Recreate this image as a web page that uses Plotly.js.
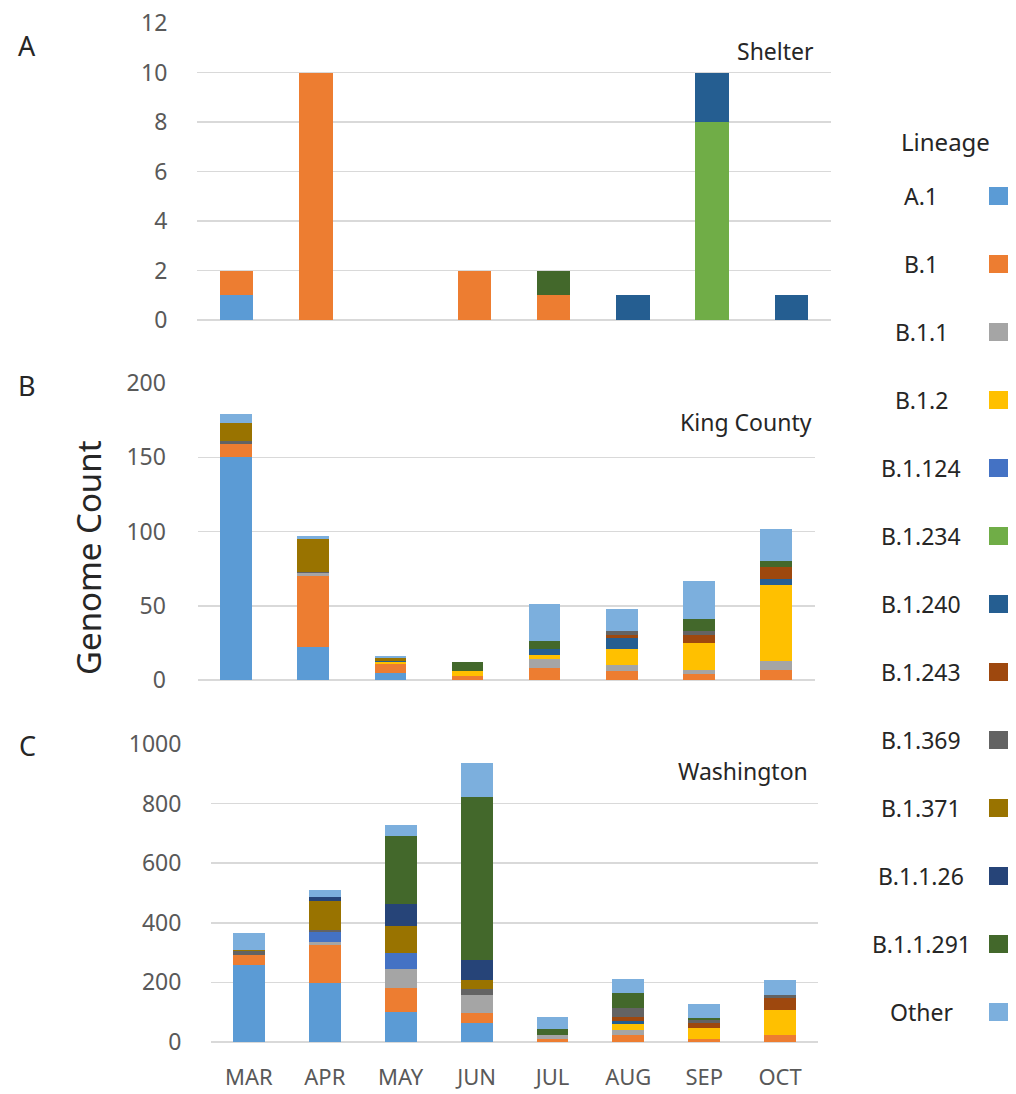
<!DOCTYPE html>
<html>
<head>
<meta charset="utf-8">
<script src="https://cdn.plot.ly/plotly-3.0.1.min.js"></script>
<style>
  html, body { margin: 0; padding: 0; background: #ffffff; }
  #chart { width: 1016px; height: 1094px; }
</style>
</head>
<body>
<div id="chart"></div>
<script>
// ---------------- DATA ----------------
const months = ['MAR', 'APR', 'MAY', 'JUN', 'JUL', 'AUG', 'SEP', 'OCT'];

const lineages = ['A.1', 'B.1', 'B.1.1', 'B.1.2', 'B.1.124', 'B.1.234', 'B.1.240',
                  'B.1.243', 'B.1.369', 'B.1.371', 'B.1.1.26', 'B.1.1.291', 'Other'];

const lineageColors = ['#5B9BD5', '#ED7D31', '#A5A5A5', '#FFC000', '#4472C4', '#70AD47', '#255E91',
                       '#9E480E', '#636363', '#997300', '#264478', '#43682B', '#7CAFDD'];

// one row per lineage (same order as `lineages`), one value per month
const shelterCounts = [
  [1, 0, 0, 0, 0, 0, 0, 0],   // A.1
  [1, 10, 0, 2, 1, 0, 0, 0],  // B.1
  [0, 0, 0, 0, 0, 0, 0, 0],   // B.1.1
  [0, 0, 0, 0, 0, 0, 0, 0],   // B.1.2
  [0, 0, 0, 0, 0, 0, 0, 0],   // B.1.124
  [0, 0, 0, 0, 0, 0, 8, 0],   // B.1.234
  [0, 0, 0, 0, 0, 1, 2, 1],   // B.1.240
  [0, 0, 0, 0, 0, 0, 0, 0],   // B.1.243
  [0, 0, 0, 0, 0, 0, 0, 0],   // B.1.369
  [0, 0, 0, 0, 0, 0, 0, 0],   // B.1.371
  [0, 0, 0, 0, 0, 0, 0, 0],   // B.1.1.26
  [0, 0, 0, 0, 1, 0, 0, 0],   // B.1.1.291
  [0, 0, 0, 0, 0, 0, 0, 0]    // Other
];

const kingCountyCounts = [
  [150, 22, 5, 0, 0, 0, 0, 0],   // A.1
  [9, 48, 6, 3, 8, 6, 4, 7],     // B.1
  [0, 2, 0, 0, 6, 4, 3, 6],      // B.1.1
  [0, 0, 1, 3, 3, 11, 18, 51],   // B.1.2
  [0, 0, 0, 0, 0, 0, 0, 0],      // B.1.124
  [0, 0, 0, 0, 0, 0, 0, 0],      // B.1.234
  [0, 0, 1, 0, 4, 7, 0, 4],      // B.1.240
  [0, 0, 0, 0, 0, 2, 5, 8],      // B.1.243
  [2, 1, 0, 0, 0, 3, 3, 0],      // B.1.369
  [12, 22, 2, 0, 0, 0, 0, 0],    // B.1.371
  [0, 0, 0, 0, 0, 0, 0, 0],      // B.1.1.26
  [0, 0, 0, 6, 5, 0, 8, 4],      // B.1.1.291
  [6, 2, 1, 0, 25, 15, 26, 22]   // Other
];

const washingtonCounts = [
  [258, 197, 102, 65, 0, 0, 0, 0],  // A.1
  [34, 129, 78, 34, 10, 23, 9, 23], // B.1
  [0, 8, 64, 59, 13, 17, 0, 0],     // B.1.1
  [0, 0, 0, 0, 0, 20, 37, 84],      // B.1.2
  [0, 34, 54, 0, 0, 0, 0, 0],       // B.1.124
  [0, 0, 0, 0, 0, 0, 0, 0],         // B.1.234
  [0, 0, 0, 0, 0, 12, 0, 0],        // B.1.240
  [0, 0, 0, 0, 0, 13, 17, 39],      // B.1.243
  [12, 8, 0, 19, 0, 28, 12, 11],    // B.1.369
  [5, 96, 90, 31, 0, 0, 0, 0],      // B.1.371
  [0, 14, 76, 67, 0, 0, 0, 0],      // B.1.1.26
  [0, 0, 226, 548, 22, 50, 4, 0],   // B.1.1.291
  [56, 24, 39, 112, 40, 48, 47, 51] // Other
];

const panelTitles = ['Shelter', 'King County', 'Washington'];
const panelLetters = ['A', 'B', 'C'];
const yRanges = [[0, 12], [0, 200], [0, 1000]];
const yDticks = [2, 50, 200];

// ---------------- LAYOUT HELPERS ----------------
const W = 1016, H = 1094;
const px = v => v / W;
const py = v => 1 - v / H;

const panels = [
  { counts: shelterCounts,    x0: 197,   x1: 831,   yTop: 23,  yBot: 320,  barW: 0.42, tlen: 24 },
  { counts: kingCountyCounts, x0: 197.5, x1: 814.5, yTop: 383, yBot: 680,  barW: 0.41, tlen: 26 },
  { counts: washingtonCounts, x0: 211,   x1: 818,   yTop: 744, yBot: 1042, barW: 0.42, tlen: 24 }
];

const FONT = 'Noto Sans, Open Sans, sans-serif';
const data = [];
const layout = {
  width: W, height: H,
  margin: { l: 0, r: 0, t: 0, b: 0 },
  paper_bgcolor: '#ffffff', plot_bgcolor: '#ffffff',
  barmode: 'stack',
  showlegend: false,
  font: { family: FONT, color: '#595959' },
  annotations: [],
  shapes: []
};

panels.forEach((p, k) => {
  const sfx = k === 0 ? '' : String(k + 1);
  lineages.forEach((name, i) => {
    data.push({
      type: 'bar',
      name: name,
      x: months,
      y: p.counts[i],
      xaxis: 'x' + sfx,
      yaxis: 'y' + sfx,
      width: p.barW,
      marker: { color: lineageColors[i], line: { width: 0 } },
      hoverinfo: 'x+y+name',
      showlegend: false
    });
  });

  layout['xaxis' + sfx] = {
    domain: [px(p.x0), px(p.x1)],
    anchor: 'y' + sfx,
    type: 'category',
    categoryorder: 'array',
    categoryarray: months,
    range: [-0.5, 7.5],
    showgrid: false, zeroline: false, showline: false,
    showticklabels: k === 2,
    ticks: k === 2 ? 'outside' : '',
    ticklen: 16,
    tickcolor: 'rgba(0,0,0,0)',
    tickfont: { family: FONT, size: 22, color: '#595959' },
    fixedrange: true
  };
  layout['yaxis' + sfx] = {
    domain: [py(p.yBot), py(p.yTop)],
    anchor: 'x' + sfx,
    range: yRanges[k],
    dtick: yDticks[k],
    tick0: 0,
    showgrid: true, gridcolor: '#d9d9d9', gridwidth: 1.5,
    zeroline: true, zerolinecolor: '#d9d9d9', zerolinewidth: 1.5,
    showline: false,
    ticks: 'outside', ticklen: p.tlen, tickcolor: 'rgba(0,0,0,0)',
    tickfont: { family: FONT, size: 23, color: '#595959' },
    fixedrange: true
  };

  // panel letter
  layout.annotations.push({
    xref: 'paper', yref: 'paper', x: px(27), y: py([45, 385, 745][k]),
    text: panelLetters[k], showarrow: false, xanchor: 'center', yanchor: 'middle',
    font: { family: FONT, size: 27, color: '#262626' }
  });
  // panel title (right aligned inside plot)
  layout.annotations.push({
    xref: 'paper', yref: 'paper', x: px([816, 814, 810][k]), y: py([51, 422, 771][k]),
    text: panelTitles[k], showarrow: false, xanchor: 'right', yanchor: 'middle',
    font: { family: FONT, size: 23, color: '#262626' }
  });
});

// y-axis title
layout.annotations.push({
  xref: 'paper', yref: 'paper', x: px(88), y: py(558),
  text: 'Genome Count', showarrow: false, textangle: -90,
  xanchor: 'center', yanchor: 'middle',
  font: { family: FONT, size: 33, color: '#262626' }
});

// custom legend: label left, swatch right
layout.annotations.push({
  xref: 'paper', yref: 'paper', x: px(945), y: py(142),
  text: 'Lineage', showarrow: false, xanchor: 'center', yanchor: 'middle',
  font: { family: FONT, size: 24, color: '#262626' }
});
const legTop = 196, legStep = 68;
lineages.forEach((name, i) => {
  const cy = legTop + i * legStep;
  layout.annotations.push({
    xref: 'paper', yref: 'paper', x: px(921), y: py(cy),
    text: name, showarrow: false, xanchor: 'center', yanchor: 'middle',
    font: { family: FONT, size: 23, color: '#262626' }
  });
  layout.shapes.push({
    type: 'rect', xref: 'paper', yref: 'paper',
    x0: px(989), x1: px(1008), y0: py(cy + 9), y1: py(cy - 9),
    fillcolor: lineageColors[i], line: { width: 0 }
  });
});

Plotly.newPlot('chart', data, layout, { displayModeBar: false, staticPlot: true });
</script>
</body>
</html>
